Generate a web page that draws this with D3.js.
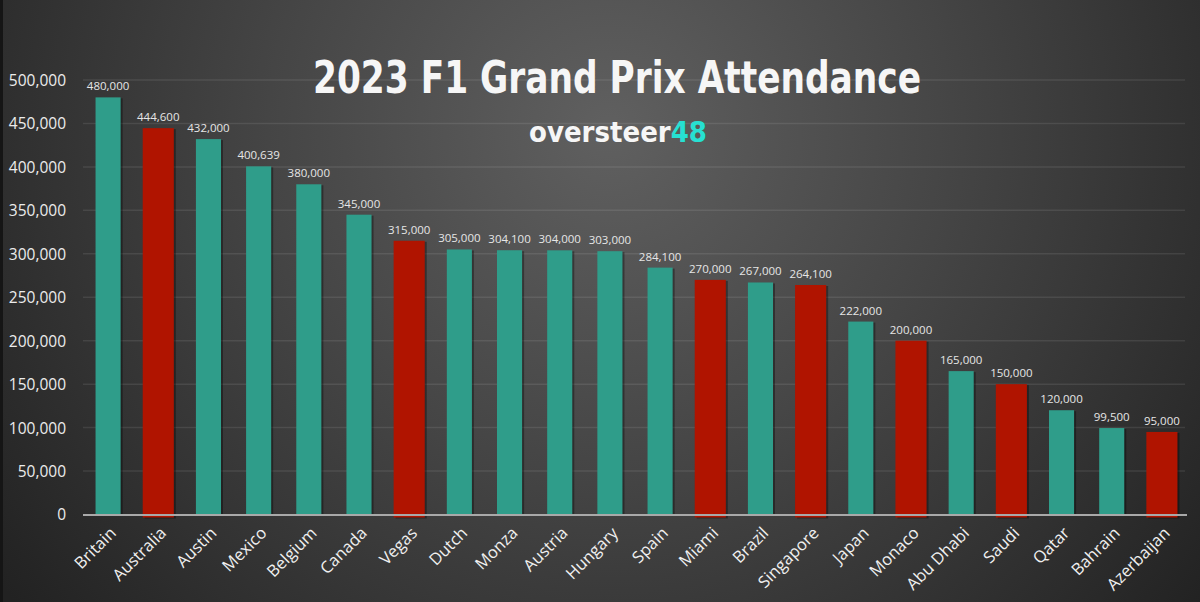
<!DOCTYPE html>
<html><head><meta charset="utf-8">
<script src="https://cdn.jsdelivr.net/npm/d3@7"></script>
<style>html,body{margin:0;padding:0;background:#333;}svg{display:block;}</style>
</head><body>
<script>
const categories = ["Britain","Australia","Austin","Mexico","Belgium","Canada","Vegas","Dutch","Monza","Austria","Hungary","Spain","Miami","Brazil","Singapore","Japan","Monaco","Abu Dhabi","Saudi","Qatar","Bahrain","Azerbaijan"];
const attendance = [480000,444600,432000,400639,380000,345000,315000,305000,304100,304000,303000,284100,270000,267000,264100,222000,200000,165000,150000,120000,99500,95000];
const highlighted = ["Australia","Vegas","Miami","Singapore","Monaco","Saudi","Azerbaijan"];
const yTicks = [0,50000,100000,150000,200000,250000,300000,350000,400000,450000,500000];
const titleText = "2023 F1 Grand Prix Attendance";
const brandMain = "oversteer", brandNum = "48";

const W = 1200, H = 602;
const svg = d3.select("body").append("svg").attr("width", W).attr("height", H);
const defs = svg.append("defs");
const rg = defs.append("radialGradient").attr("id","bg").attr("gradientUnits","userSpaceOnUse")
  .attr("cx",610).attr("cy",130).attr("r",760);
rg.append("stop").attr("offset","0").attr("stop-color","#606060");
rg.append("stop").attr("offset","0.45").attr("stop-color","#454545");
rg.append("stop").attr("offset","1").attr("stop-color","#222222");
svg.append("rect").attr("width",W).attr("height",H).attr("fill","url(#bg)");
svg.append("rect").attr("x",0).attr("y",0).attr("width",3).attr("height",H).attr("fill","#151515");

const x = d3.scaleBand().domain(categories).range([83, 1187]).paddingInner(0).paddingOuter(0);
const y = d3.scaleLinear().domain([0, 500000]).range([514.5, 80]);

// gridlines
svg.append("g").selectAll("line").data(yTicks.filter(d=>d>0)).join("line")
  .attr("x1",83).attr("x2",1185).attr("y1",d=>y(d)).attr("y2",d=>y(d))
  .attr("stroke","rgba(255,255,255,0.09)").attr("stroke-width",1.5);

// y axis
const yAxis = d3.axisLeft(y).tickValues(yTicks).tickFormat(d3.format(",")).tickSize(0).tickPadding(0);
const ga = svg.append("g").attr("transform","translate(66,0)").call(yAxis);
ga.select(".domain").remove();
ga.selectAll("text").attr("fill","#ececec").attr("font-family","'Open Sans', sans-serif").attr("font-size",15.5).attr("dy","0.35em");

// title
svg.append("text").attr("x",617).attr("y",93).attr("text-anchor","middle")
  .attr("font-family","'DejaVu Sans Condensed','DejaVu Sans',sans-serif").attr("font-weight","bold")
  .attr("font-size",44).attr("fill","#f6f6f6")
  .attr("textLength",608).attr("lengthAdjust","spacingAndGlyphs").text(titleText);

const brand = svg.append("text").attr("x",618).attr("y",142).attr("text-anchor","middle")
  .attr("font-family","'DejaVu Sans Condensed','DejaVu Sans',sans-serif").attr("font-weight","bold")
  .attr("font-size",29).attr("textLength",178).attr("lengthAdjust","spacingAndGlyphs");
brand.append("tspan").attr("fill","#f6f6f6").text(brandMain);
brand.append("tspan").attr("fill","#27e0d2").text(brandNum);

// bars
const bw = x.bandwidth();
const gb = svg.append("g");
const data = categories.map((c,i)=>({c, v: attendance[i], red: highlighted.includes(c)}));
// baseline
svg.append("line").attr("x1",83).attr("x2",1187).attr("y1",y(0)+0.5).attr("y2",y(0)+0.5)
  .attr("stroke","#a9a9a9").attr("stroke-width",2);

gb.selectAll("rect.shadow").data(data).join("rect")
  .attr("x", d => x(d.c) + bw/2 - (d.red? bw*0.31 : bw*0.25) + 2)
  .attr("width", d => d.red ? bw*0.62 : bw*0.5)
  .attr("y", d => y(d.v) + 1)
  .attr("height", d => y(0) - y(d.v) + (d.red?3:0))
  .attr("fill","rgba(0,0,0,0.35)");
gb.selectAll("rect.bar").data(data).join("rect")
  .attr("x", d => x(d.c) + bw/2 - (d.red? bw*0.31 : bw*0.25))
  .attr("width", d => d.red ? bw*0.62 : bw*0.5)
  .attr("y", d => y(d.v))
  .attr("height", d => y(0) - y(d.v) + (d.red?3:0))
  .attr("fill", d => d.red ? "#b01400" : "#2f9d8a");

// value labels
gb.selectAll("text.val").data(data).join("text")
  .attr("x", d => x(d.c) + bw/2).attr("y", d => y(d.v) - 7)
  .attr("text-anchor","middle").attr("fill","#e6e6e6")
  .attr("font-family","'Open Sans', sans-serif").attr("font-size",11.5)
  .text(d => d3.format(",")(d.v));

// category labels
svg.append("g").selectAll("text").data(categories).join("text")
  .attr("transform", d => `translate(${x(d)+bw/2+5},${530}) rotate(-45)`)
  .attr("text-anchor","end").attr("fill","#f0f0f0")
  .attr("font-family","'Open Sans', sans-serif").attr("font-size",16.5)
  .attr("dy","0.35em")
  .text(d=>d);
</script>
</body></html>
